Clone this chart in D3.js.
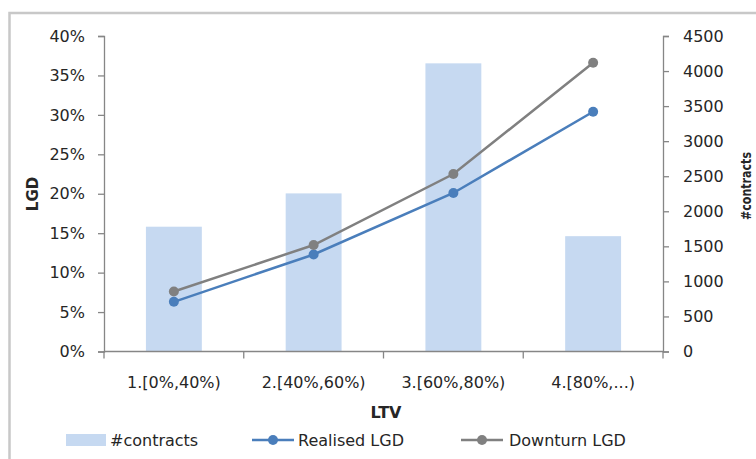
<!DOCTYPE html>
<html><head><meta charset="utf-8">
<script src="https://cdn.jsdelivr.net/npm/d3@7"></script>
<style>body{margin:0;background:#fff}svg{display:block}text{font-family:"DejaVu Sans",sans-serif;fill:#262626}</style>
</head><body><svg id="c" width="756" height="459"></svg>
<script>
const categories = ["1.[0%,40%)", "2.[40%,60%)", "3.[60%,80%)", "4.[80%,...)"];
const contracts = [1780, 2255, 4110, 1645];
const realisedLGD = [0.063, 0.123, 0.201, 0.304];
const downturnLGD = [0.076, 0.135, 0.225, 0.366];
const leftTicks = [0,0.05,0.10,0.15,0.20,0.25,0.30,0.35,0.40];
const rightTicks = [0,500,1000,1500,2000,2500,3000,3500,4000,4500];

const FONT = '"DejaVu Sans",sans-serif';
const FS = "16px";
const svg = d3.select("#c");
const m = {l:104, r:663, t:36, b:351.5};
// chart frame
svg.append("rect").attr("x",9.5).attr("y",13).attr("width",760).attr("height",460)
  .attr("fill","none").attr("stroke","#c8c8c8").attr("stroke-width",2.5);

const x = d3.scaleBand().domain(categories).range([m.l,m.r]).paddingInner(0.6).paddingOuter(0.3);
const xb = d3.scaleBand().domain(categories).range([m.l,m.r]);
const yL = d3.scaleLinear().domain([0,0.4]).range([m.b,m.t]);
const yR = d3.scaleLinear().domain([0,4500]).range([m.b,m.t]);

// bars
svg.append("g").selectAll("rect").data(contracts).join("rect")
  .attr("x",(d,i)=>x(categories[i])).attr("width",x.bandwidth())
  .attr("y",d=>yR(d)).attr("height",d=>yR(0)-yR(d)).attr("fill","#c6d9f1");

const axStyle = g=>{g.selectAll("path,line").attr("stroke","#868686").attr("stroke-width",1.3);
  g.selectAll("text").style("font-size",FS).attr("fill","#262626").style("font-family",FONT);};

svg.append("g").attr("transform",`translate(${m.l},0)`)
  .call(d3.axisLeft(yL).tickValues(leftTicks).tickFormat(d3.format(".0%")).tickSize(6).tickSizeOuter(6).tickPadding(13))
  .call(axStyle);
svg.append("g").attr("transform",`translate(${m.r},0)`)
  .call(d3.axisRight(yR).tickValues(rightTicks).tickFormat(d3.format("d")).tickSize(6).tickSizeOuter(6).tickPadding(14))
  .call(axStyle);
// x axis with ticks at band boundaries
const gx = svg.append("g").attr("transform",`translate(0,${m.b})`);
gx.append("line").attr("x1",m.l).attr("x2",m.r).attr("stroke","#868686").attr("stroke-width",1.3);
const bounds = categories.map(c=>xb(c)).concat([m.r]);
gx.selectAll("line.t").data(bounds).join("line").attr("class","t")
  .attr("x1",d=>d).attr("x2",d=>d).attr("y1",0).attr("y2",7).attr("stroke","#868686").attr("stroke-width",1.3);
gx.selectAll("text").data(categories).join("text")
  .attr("x",d=>xb(d)+xb.bandwidth()/2).attr("y",36).attr("text-anchor","middle")
  .style("font-size",FS).text(d=>d);

// lines
const cx = c=>xb(c)+xb.bandwidth()/2;
function drawLine(vals,color){
  const line = d3.line().x((d,i)=>cx(categories[i])).y(d=>yL(d));
  svg.append("path").datum(vals).attr("d",line).attr("fill","none").attr("stroke",color).attr("stroke-width",2.5);
  svg.append("g").selectAll("circle").data(vals).join("circle")
    .attr("cx",(d,i)=>cx(categories[i])).attr("cy",d=>yL(d)).attr("r",5).attr("fill",color);
}
drawLine(realisedLGD,"#4a7ebb");
drawLine(downturnLGD,"#808080");

// titles
svg.append("text").attr("transform","translate(38,194) rotate(-90)").attr("text-anchor","middle")
  .style("font-size","15px").style("font-weight","bold").text("LGD");
svg.append("text").attr("transform","translate(751,186) rotate(-90)").attr("text-anchor","middle")
  .attr("textLength",68).attr("lengthAdjust","spacingAndGlyphs")
  .style("font-size","14px").style("font-weight","bold").text("#contracts");
svg.append("text").attr("x",386).attr("y",418).attr("text-anchor","middle")
  .style("font-size","16px").style("font-weight","bold").text("LTV");

// legend
const ly = 440;
const lg = svg.append("g");
lg.append("rect").attr("x",66).attr("y",ly-6).attr("width",40).attr("height",12).attr("fill","#c6d9f1");
lg.append("text").attr("x",110).attr("y",ly+6).style("font-size",FS).text("#contracts");
[[252,298,"#4a7ebb","Realised LGD"],[461,509,"#808080","Downturn LGD"]].forEach(([x0,tx,c,t])=>{
  lg.append("line").attr("x1",x0).attr("x2",x0+42).attr("y1",ly).attr("y2",ly).attr("stroke",c).attr("stroke-width",2.5);
  lg.append("circle").attr("cx",x0+21).attr("cy",ly).attr("r",5).attr("fill",c);
  lg.append("text").attr("x",tx).attr("y",ly+6).style("font-size",FS).text(t);
});
</script></body></html>
